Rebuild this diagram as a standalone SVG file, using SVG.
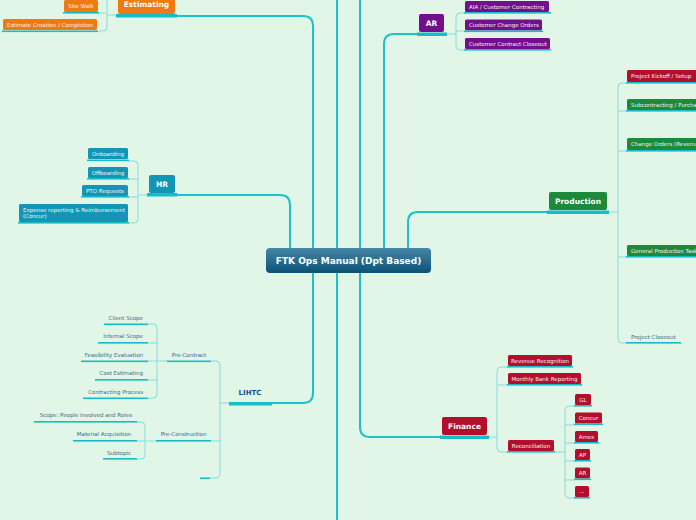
<svg xmlns="http://www.w3.org/2000/svg" width="696" height="520" viewBox="0 0 696 520">
<defs>
<linearGradient id="cg" x1="0" y1="0" x2="0" y2="1"><stop offset="0" stop-color="#4686a6"/><stop offset="1" stop-color="#0b5376"/></linearGradient>
<style>
.main{fill:none;stroke:#1bc3c9;stroke-width:2}
.br{fill:none;stroke:#86dcdc;stroke-width:1}
.ul{fill:#17bcc6}
.t{font-family:"DejaVu Sans",Verdana,sans-serif;font-size:5.5px;fill:#f7f2f2}
.p{font-family:"DejaVu Sans",Verdana,sans-serif;font-size:5.5px;fill:#3e6985}
.m{font-family:"DejaVu Sans",Verdana,sans-serif;font-size:7.5px;font-weight:bold;fill:#ffffff;text-anchor:middle}
.or{fill:#ef7a12}.bl{fill:#1396b6}.pu{fill:#720f8c}.gr{fill:#1c8a3a}.rd{fill:#b30f2d}
</style>
</defs>
<rect width="696" height="520" fill="#e1f6e7"/>
<g id="connectors">
<path class="main" d="M337,0 V520"/>
<path class="main" d="M360,0 V427 Q360,437 370,437 H441"/>
<path class="main" d="M177,16 H303 Q313,16 313,26 V250"/>
<path class="main" d="M313,272 V393 Q313,403 303,403 H272"/>
<path class="main" d="M177,195 H280 Q290,195 290,205 V250"/>
<path class="main" d="M417,34 H394 Q384,34 384,44 V250"/>
<path class="main" d="M548,212 H418 Q408,212 408,222 V250"/>
<path class="br" d="M116,15 H107 M99,13 H107 M107,0 V27 Q107,31 103,31 H98"/>
<path class="br" d="M147,195 H138 M128,161 H134 Q138,161 138,165 V219 Q138,223 134,223 H128 M128,179 H138 M128,197 H138"/>
<path class="br" d="M229,403 H220 M211,361 H216 Q220,361 220,365 V474 Q220,478 216,478 H210 M211,441 H220"/>
<path class="br" d="M167,361 H148 M148,324 H153 Q157,324 157,328 V394 Q157,398 153,398 H148 M148,343 H157 M148,380 H157"/>
<path class="br" d="M156,441 H137 M137,422 H141 Q145,422 145,426 V455 Q145,459 141,459 H137"/>
<path class="br" d="M447,34 H456 M465,13 H460 Q456,13 456,17 V46 Q456,50 460,50 H465 M465,31 H456"/>
<path class="br" d="M609,212 H618 M627,83 H622 Q618,83 618,87 V339 Q618,343 622,343 H627 M627,111 H618 M627,151 H618 M627,257 H618"/>
<path class="br" d="M489,437 H497 M508,367 H501 Q497,367 497,371 V448 Q497,452 501,452 H507 M508,385 H497"/>
<path class="br" d="M555,452 H565 M575,406 H569 Q565,406 565,410 V494 Q565,498 569,498 H575 M575,425 H565 M575,443 H565 M575,461 H565 M575,480 H565"/>
</g>
<g id="root">
<rect x="266" y="248" width="165" height="25" rx="4" fill="url(#cg)"/>
<text x="348.5" y="264" text-anchor="middle" font-family="DejaVu Sans,Verdana,sans-serif" font-size="9" font-weight="bold" fill="#ffffff">FTK Ops Manual (Dpt Based)</text>
</g>
<g id="estimating">
<rect class="or" x="118" y="-4" width="57" height="18" rx="2"/>
<rect class="ul" x="116" y="14" width="61" height="3.5"/>
<text class="m" x="146.5" y="7">Estimating</text>
</g>
<g id="site-walk"><rect class="or" x="64" y="0" width="34" height="12" rx="1.5"/><rect class="ul" x="63" y="12" width="36" height="1.6"/><text class="t" x="81" y="7.5" text-anchor="middle">Site Walk</text></g>
<g id="estimate-creation"><rect class="or" x="3" y="19" width="94" height="11" rx="1.5"/><rect class="ul" x="2" y="30.5" width="96" height="1.6"/><text class="t" x="50" y="26.5" text-anchor="middle">Estimate Creation / Completion</text></g>
<g id="hr">
<rect class="bl" x="149" y="175" width="26" height="18" rx="2"/>
<rect class="ul" x="147" y="193" width="30" height="3.5"/>
<text class="m" x="162" y="186.5">HR</text>
</g>
<g id="onboarding"><rect class="bl" x="88" y="148" width="40" height="11" rx="1.5"/><rect class="ul" x="87" y="159.5" width="42" height="1.6"/><text class="t" x="108" y="155.5" text-anchor="middle">Onboarding</text></g>
<g id="offboarding"><rect class="bl" x="88" y="167" width="40" height="11" rx="1.5"/><rect class="ul" x="87" y="178" width="42" height="1.6"/><text class="t" x="108" y="174.5" text-anchor="middle">Offboarding</text></g>
<g id="pto"><rect class="bl" x="82" y="185" width="46" height="11" rx="1.5"/><rect class="ul" x="81" y="196" width="48" height="1.6"/><text class="t" x="105" y="192.5" text-anchor="middle">PTO Requests</text></g>
<g id="expense"><rect class="bl" x="19" y="204" width="109" height="18" rx="1.5"/><rect class="ul" x="18" y="222" width="111" height="1.6"/><text class="t" x="23" y="211.5">Expense reporting &amp; Reimbursement</text><text class="t" x="23" y="218">(Concur)</text></g>
<g id="lihtc">
<rect class="ul" x="229" y="402" width="43" height="3.5"/>
<text x="250" y="395" text-anchor="middle" font-family="DejaVu Sans,Verdana,sans-serif" font-size="7" font-weight="bold" fill="#0e5684">LIHTC</text>
</g>
<g id="pre-contract"><rect class="ul" x="167" y="360.5" width="44" height="1.6"/><text class="p" x="189" y="357" text-anchor="middle">Pre-Contract</text></g>
<g id="pre-construction"><rect class="ul" x="156" y="440" width="55" height="1.6"/><text class="p" x="183.5" y="436" text-anchor="middle">Pre-Construction</text></g>
<g id="empty-topic"><rect class="ul" x="200" y="477.5" width="10" height="1.6"/></g>
<g id="client-scope"><rect class="ul" x="104" y="323.5" width="44" height="1.6"/><text class="p" x="143" y="320" text-anchor="end">Client Scope</text></g>
<g id="internal-scope"><rect class="ul" x="98" y="342" width="50" height="1.6"/><text class="p" x="143" y="338" text-anchor="end">Internal Scope</text></g>
<g id="feasibility"><rect class="ul" x="81" y="360.5" width="67" height="1.6"/><text class="p" x="143" y="357" text-anchor="end">Feasibility Evaluation</text></g>
<g id="cost-estimating"><rect class="ul" x="95" y="379" width="53" height="1.6"/><text class="p" x="143" y="375" text-anchor="end">Cost Estimating</text></g>
<g id="contracting-process"><rect class="ul" x="83" y="397.5" width="65" height="1.6"/><text class="p" x="143" y="394" text-anchor="end">Contracting Process</text></g>
<g id="scope-people"><rect class="ul" x="34" y="421" width="103" height="1.6"/><text class="p" x="132" y="417" text-anchor="end">Scope: People Involved and Roles</text></g>
<g id="material"><rect class="ul" x="73" y="440" width="64" height="1.6"/><text class="p" x="131" y="436" text-anchor="end">Material Acquisition</text></g>
<g id="subtopic"><rect class="ul" x="103" y="458" width="34" height="1.6"/><text class="p" x="131" y="454.5" text-anchor="end">Subtopic</text></g>
<g id="ar">
<rect class="pu" x="419" y="14" width="25" height="18" rx="2"/>
<rect class="ul" x="417" y="32.5" width="30" height="3.5"/>
<text class="m" x="431.5" y="25.5">AR</text>
</g>
<g id="aia"><rect class="pu" x="465" y="1" width="84" height="11" rx="1.5"/><rect class="ul" x="464" y="12" width="87" height="1.6"/><text class="t" x="469" y="8.5">AIA / Customer Contracting</text></g>
<g id="change-orders"><rect class="pu" x="465" y="19.5" width="77" height="11" rx="1.5"/><rect class="ul" x="464" y="30.5" width="79" height="1.6"/><text class="t" x="469" y="27">Customer Change Orders</text></g>
<g id="closeout"><rect class="pu" x="465" y="38" width="85" height="11" rx="1.5"/><rect class="ul" x="464" y="49" width="87" height="1.6"/><text class="t" x="469" y="45.5">Customer Contract Closeout</text></g>
<g id="production">
<rect class="gr" x="549" y="192" width="58" height="18" rx="2"/>
<rect class="ul" x="547" y="210.5" width="62" height="3.5"/>
<text class="m" x="578" y="203.5">Production</text>
</g>
<g id="kickoff"><rect class="rd" x="627" y="70" width="75" height="12" rx="1.5"/><rect class="ul" x="626" y="82" width="76" height="1.6"/><text class="t" x="631" y="78">Project Kickoff / Setup</text></g>
<g id="subcontracting"><rect class="gr" x="627" y="99" width="75" height="11" rx="1.5"/><rect class="ul" x="626" y="110" width="76" height="1.6"/><text class="t" x="631" y="106.5">Subcontracting / Purchasing</text></g>
<g id="prod-change-orders"><rect class="gr" x="627" y="138" width="75" height="12" rx="1.5"/><rect class="ul" x="626" y="150" width="76" height="1.6"/><text class="t" x="631" y="146">Change Orders (Revenue)</text></g>
<g id="general-tasks"><rect class="gr" x="627" y="245" width="75" height="11" rx="1.5"/><rect class="ul" x="626" y="256" width="76" height="1.6"/><text class="t" x="631" y="252.5">General Production Tasks</text></g>
<g id="project-closeout"><rect class="ul" x="626" y="342" width="55" height="1.6"/><text class="p" x="631" y="339">Project Closeout</text></g>
<g id="finance">
<rect class="rd" x="442" y="417" width="45" height="18" rx="2"/>
<rect class="ul" x="440" y="435.5" width="49" height="3.5"/>
<text class="m" x="464.5" y="428.5">Finance</text>
</g>
<g id="revenue"><rect class="rd" x="508" y="355" width="64" height="11" rx="1.5"/><rect class="ul" x="507" y="366" width="66" height="1.6"/><text class="t" x="540" y="362.5" text-anchor="middle">Revenue Recognition</text></g>
<g id="bank"><rect class="rd" x="508" y="373" width="73" height="11" rx="1.5"/><rect class="ul" x="507" y="384" width="75" height="1.6"/><text class="t" x="544.5" y="380.5" text-anchor="middle">Monthly Bank Reporting</text></g>
<g id="reconciliation"><rect class="rd" x="508" y="440" width="46" height="11" rx="1.5"/><rect class="ul" x="507" y="451" width="48" height="1.6"/><text class="t" x="531" y="447.5" text-anchor="middle">Reconciliation</text></g>
<g id="gl"><rect class="rd" x="575" y="394" width="16" height="11" rx="1.5"/><rect class="ul" x="574" y="405" width="18" height="1.6"/><text class="t" x="583" y="401.5" text-anchor="middle">GL</text></g>
<g id="concur"><rect class="rd" x="575" y="412.5" width="27" height="11" rx="1.5"/><rect class="ul" x="574" y="423.5" width="29" height="1.6"/><text class="t" x="588.5" y="420" text-anchor="middle">Concur</text></g>
<g id="amex"><rect class="rd" x="575" y="431" width="23" height="11" rx="1.5"/><rect class="ul" x="574" y="442" width="25" height="1.6"/><text class="t" x="586.5" y="438.5" text-anchor="middle">Amex</text></g>
<g id="ap"><rect class="rd" x="575" y="449" width="15" height="11" rx="1.5"/><rect class="ul" x="574" y="460" width="17" height="1.6"/><text class="t" x="582.5" y="456.5" text-anchor="middle">AP</text></g>
<g id="ar-fin"><rect class="rd" x="575" y="467.5" width="15" height="11" rx="1.5"/><rect class="ul" x="574" y="478.5" width="17" height="1.6"/><text class="t" x="582.5" y="475" text-anchor="middle">AR</text></g>
<g id="more"><rect class="rd" x="575" y="486" width="14" height="11" rx="1.5"/><rect class="ul" x="574" y="497" width="16" height="1.6"/><text class="t" x="582" y="493" text-anchor="middle">...</text></g>
</svg>
